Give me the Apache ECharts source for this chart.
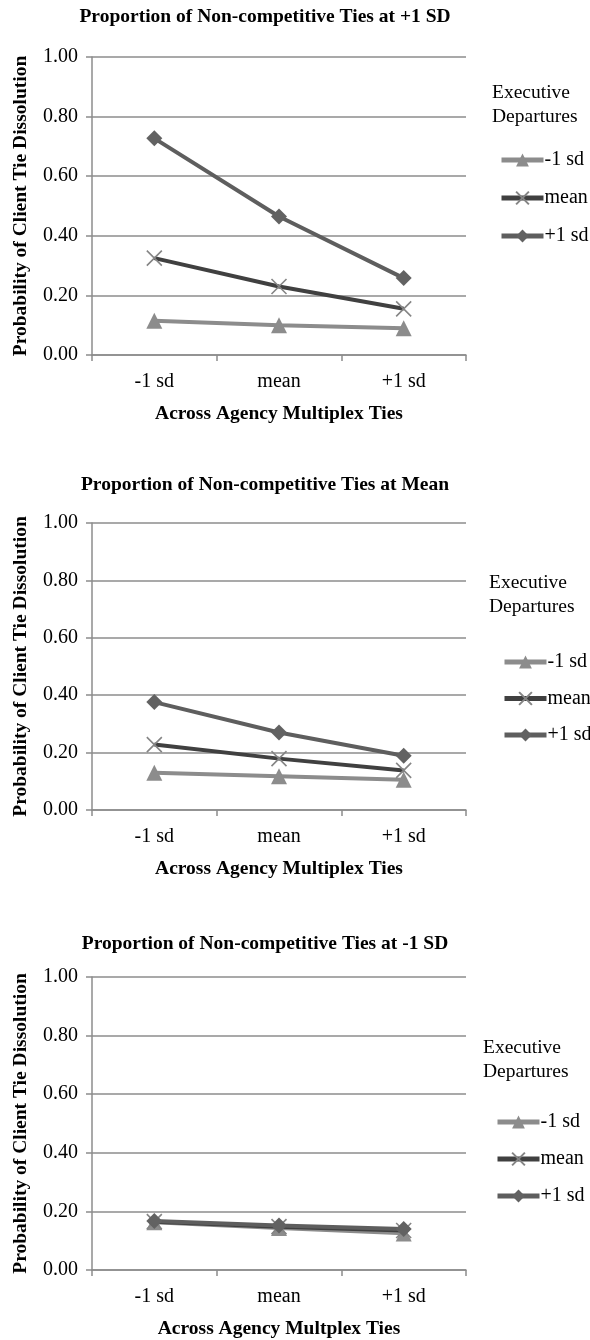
<!DOCTYPE html>
<html><head><meta charset="utf-8">
<script src="https://cdn.jsdelivr.net/npm/echarts@6/dist/echarts.min.js"></script>
<style>html,body{margin:0;padding:0;background:#fff}#c{width:590px;height:1340px}</style>
</head><body><div id="c"></div>
<script>
var categories = ['-1 sd', 'mean', '+1 sd'];
var seriesNames = ['-1 sd', 'mean', '+1 sd'];
var yTicks = [0, 0.2, 0.4, 0.6, 0.8, 1.0];
var chartTitles = ['Proportion of Non-competitive Ties at +1 SD', 'Proportion of Non-competitive Ties at Mean', 'Proportion of Non-competitive Ties at -1 SD'];
var xAxisNames = ['Across Agency Multiplex Ties', 'Across Agency Multiplex Ties', 'Across Agency Multplex Ties'];
var yAxisName = 'Probability of Client Tie Dissolution';
var legendTitle = 'Executive\nDepartures';
// chart 1: non-competitive ties at +1 SD
var c1Low = [0.115, 0.100, 0.090];
var c1Mean = [0.325, 0.230, 0.155];
var c1High = [0.727, 0.465, 0.258];
// chart 2: at mean
var c2Low = [0.130, 0.118, 0.105];
var c2Mean = [0.228, 0.179, 0.138];
var c2High = [0.376, 0.270, 0.189];
// chart 3: at -1 SD
var c3Low = [0.163, 0.143, 0.125];
var c3Mean = [0.165, 0.148, 0.135];
var c3High = [0.167, 0.152, 0.140];

var FONT = 'Liberation Serif';
var panels = [
  {data: [c1Low, c1Mean, c1High], top: 57, height: 298, titleTop: 7, legTitleTop: 81, legTitleLeft: 492, legTop: 150, legLeft: 499, legGap: 18},
  {data: [c2Low, c2Mean, c2High], top: 523, height: 287, titleTop: 475, legTitleTop: 571, legTitleLeft: 489, legTop: 652, legLeft: 502, legGap: 16.5},
  {data: [c3Low, c3Mean, c3High], top: 977, height: 295, titleTop: 934, legTitleTop: 1036, legTitleLeft: 483, legTop: 1112, legLeft: 495, legGap: 17}
];
var styles = [
  {line: '#8c8c8c', sym: 'triangle', size: 16, item: {color: '#8c8c8c'}},
  {line: '#404040', sym: 'path://M0,0L10,10M0,10L10,0', size: 15, item: {color: '#858585', borderColor: '#858585', borderWidth: 1.6}},
  {line: '#5e5e5e', sym: 'diamond', size: 16, item: {color: '#626262'}}
];
var grid = [], xAxis = [], yAxis = [], series = [], title = [], legend = [];
panels.forEach(function (p, i) {
  grid.push({left: 92, width: 374, top: p.top, height: p.height});
  title.push({text: chartTitles[i], left: 265, top: p.titleTop, textAlign: 'center', padding: 0,
    textStyle: {fontFamily: FONT, fontSize: 19.5, fontWeight: 'bold', color: '#000'}});
  title.push({text: legendTitle, left: p.legTitleLeft, top: p.legTitleTop, padding: 0,
    textStyle: {fontFamily: FONT, fontSize: 19.5, fontWeight: 'normal', color: '#000', lineHeight: 24}});
  legend.push({orient: 'vertical', left: p.legLeft, top: p.legTop, itemGap: p.legGap, itemWidth: 42, itemHeight: 16, padding: 0,
    data: seriesNames, selectedMode: false, lineStyle: {width: 5},
    textStyle: {fontFamily: FONT, fontSize: 20, lineHeight: 20, color: '#000', padding: [0, 0, 0, -4]}});
  xAxis.push({type: 'category', gridIndex: i, data: categories, boundaryGap: true,
    name: xAxisNames[i], nameLocation: 'middle', nameGap: 49,
    nameTextStyle: {fontFamily: FONT, fontSize: 19.5, fontWeight: 'bold', color: '#000'},
    axisLine: {lineStyle: {color: '#8c8c8c', width: 1.5}},
    axisTick: {show: true, length: 6, lineStyle: {color: '#8c8c8c', width: 1.5}},
    axisLabel: {fontFamily: FONT, fontSize: 20, color: '#000', margin: 17},
    splitLine: {show: false}});
  yAxis.push({type: 'value', gridIndex: i, min: yTicks[0], max: yTicks[yTicks.length - 1], interval: yTicks[1] - yTicks[0],
    name: yAxisName, nameLocation: 'middle', nameGap: 61,
    nameTextStyle: {fontFamily: FONT, fontSize: 19.5, fontWeight: 'bold', color: '#000'},
    axisLine: {show: true, lineStyle: {color: '#8c8c8c', width: 1.5}},
    axisTick: {show: true, length: 6, lineStyle: {color: '#8c8c8c', width: 1.5}},
    axisLabel: {fontFamily: FONT, fontSize: 20, color: '#000', margin: 14, formatter: function (v) { return v.toFixed(2); }},
    splitLine: {show: true, lineStyle: {color: '#8c8c8c', width: 1.5}}});
  p.data.forEach(function (d, k) {
    var s = styles[k];
    series.push({type: 'line', name: seriesNames[k], xAxisIndex: i, yAxisIndex: i, data: d,
      symbol: s.sym, symbolSize: s.size, showSymbol: true, animation: false,
      lineStyle: {color: s.line, width: 4}, itemStyle: s.item, z: 2 + k});
  });
});
var chart = echarts.init(document.getElementById('c'), null, {renderer: 'canvas'});
chart.setOption({animation: false, title: title, legend: legend, grid: grid, xAxis: xAxis, yAxis: yAxis, series: series});
</script></body></html>
